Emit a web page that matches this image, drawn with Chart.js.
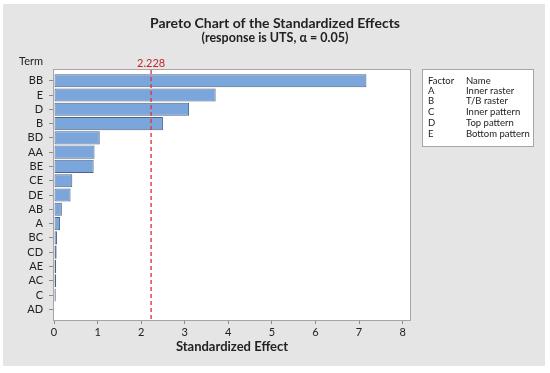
<!DOCTYPE html>
<html>
<head>
<meta charset="utf-8">
<script src="https://cdn.jsdelivr.net/npm/chart.js@4.4.1/dist/chart.umd.min.js"></script>
<style>
  html, body { margin: 0; padding: 0; background: #fff; }
  #wrap { width: 550px; height: 373px; }
</style>
</head>
<body>
<div id="wrap"><canvas id="pareto" width="550" height="373"></canvas></div>
<script>
// terms ordered largest effect first
const terms = ['BB', 'E', 'D', 'B', 'BD', 'AA', 'BE', 'CE', 'DE', 'AB', 'A', 'BC', 'CD', 'AE', 'AC', 'C', 'AD'];
const effects = [7.17, 3.71, 3.10, 2.50, 1.05, 0.93, 0.91, 0.42, 0.38, 0.18, 0.14, 0.07, 0.06, 0.05, 0.05, 0.04, 0.01];
const xTicks = [0, 1, 2, 3, 4, 5, 6, 7, 8];
const critical = 2.228;
const factors = ['A', 'B', 'C', 'D', 'E'];
const factorNames = ['Inner raster', 'T/B raster', 'Inner pattern', 'Top pattern', 'Bottom pattern'];

const FONT = 'Lato, "Open Sans", sans-serif';

const decor = {
  id: 'decor',
  beforeDraw(chart) {
    const ctx = chart.ctx, a = chart.chartArea;
    ctx.save();
    ctx.fillStyle = '#e5e5e5';
    ctx.fillRect(3, 4, 542, 362);
    ctx.fillStyle = '#ffffff';
    ctx.fillRect(a.left, a.top, a.right - a.left, a.bottom - a.top);
    ctx.restore();
  },
  afterDraw(chart) {
    const ctx = chart.ctx, a = chart.chartArea;
    const xs = chart.scales.x;
    ctx.save();
    // plot frame
    ctx.strokeStyle = '#a6a6a6';
    ctx.lineWidth = 1;
    ctx.strokeRect(a.left - 0.5, a.top - 0.5, a.right - a.left + 1, a.bottom - a.top + 1);

    // critical value line
    const cx = xs.getPixelForValue(critical);
    ctx.strokeStyle = '#e0383e';
    ctx.lineWidth = 1.4;
    ctx.setLineDash([4, 3]);
    ctx.beginPath();
    ctx.moveTo(cx, a.top);
    ctx.lineTo(cx, a.bottom);
    ctx.stroke();
    ctx.setLineDash([]);
    ctx.fillStyle = '#c0282e';
    ctx.font = '11px ' + FONT;
    ctx.textAlign = 'center';
    ctx.textBaseline = 'alphabetic';
    ctx.fillText(critical.toFixed(3), cx, a.top - 3);

    // titles
    ctx.fillStyle = '#222';
    ctx.font = 'bold 14px ' + FONT;
    ctx.fillText('Pareto Chart of the Standardized Effects', 275, 28);
    ctx.font = 'bold 12.5px ' + FONT;
    ctx.fillText('(response is UTS, \u03b1 = 0.05)', 275, 42);

    ctx.font = '11px ' + FONT;
    ctx.textAlign = 'left';
    ctx.fillText('Term', 19, 65);

    // factor key box
    ctx.lineWidth = 1;
    ctx.fillStyle = '#ffffff';
    ctx.fillRect(422, 69, 112, 78);
    ctx.strokeStyle = '#a6a6a6';
    ctx.strokeRect(422.5, 69.5, 111, 77);
    ctx.fillStyle = '#222';
    ctx.font = '9.5px ' + FONT;
    ctx.fillText('Factor', 428, 83.5);
    ctx.fillText('Name', 466, 83.5);
    factors.forEach((f, i) => {
      const y = 93.5 + i * 10.9;
      ctx.fillText(f, 428, y);
      ctx.fillText(factorNames[i], 466, y);
    });
    ctx.restore();
  }
};

new Chart(document.getElementById('pareto'), {
  type: 'bar',
  data: {
    datasets: [{
      label: 'Standardized Effect',
      data: effects.map((v, i) => ({ x: v, y: i })),
      backgroundColor: '#7ba6dc',
      borderColor: '#4f6283',
      borderWidth: 1,
      borderSkipped: false,
      barPercentage: 0.92,
      categoryPercentage: 1
    }]
  },
  options: {
    indexAxis: 'y',
    animation: false,
    responsive: false,
    devicePixelRatio: 1,
    layout: { padding: { top: 70, right: 140, bottom: 0, left: 0 } },
    plugins: {
      legend: { display: false },
      tooltip: { enabled: false }
    },
    scales: {
      x: {
        type: 'linear',
        bounds: 'data',
        min: 0,
        max: 8.17,
        afterBuildTicks: s => { s.ticks = xTicks.map(v => ({ value: v })); },
        afterFit: s => { s.height = 53; },
        grid: { drawOnChartArea: false, drawTicks: true, tickLength: 4, color: '#8c8c8c' },
        border: { display: false },
        ticks: { color: '#222', font: { family: FONT, size: 11 }, padding: 2, autoSkip: false },
        title: {
          display: true,
          text: 'Standardized Effect',
          color: '#222',
          font: { family: FONT, size: 13, weight: 'bold' },
          padding: { top: 0, bottom: 18 }
        }
      },
      y: {
        type: 'linear',
        bounds: 'data',
        offset: false,
        reverse: true,
        min: -0.75,
        max: 16.75,
        afterBuildTicks: s => { s.ticks = terms.map((t, i) => ({ value: i })); },
        afterFit: s => { s.width = 54; },
        grid: { offset: false, drawOnChartArea: false, drawTicks: true, tickLength: 5, color: '#8c8c8c' },
        border: { display: false },
        ticks: {
          color: '#222',
          font: { family: FONT, size: 11 },
          padding: 6,
          autoSkip: false,
          callback: v => terms[v]
        }
      }
    }
  },
  plugins: [decor]
});
</script>
</body>
</html>
